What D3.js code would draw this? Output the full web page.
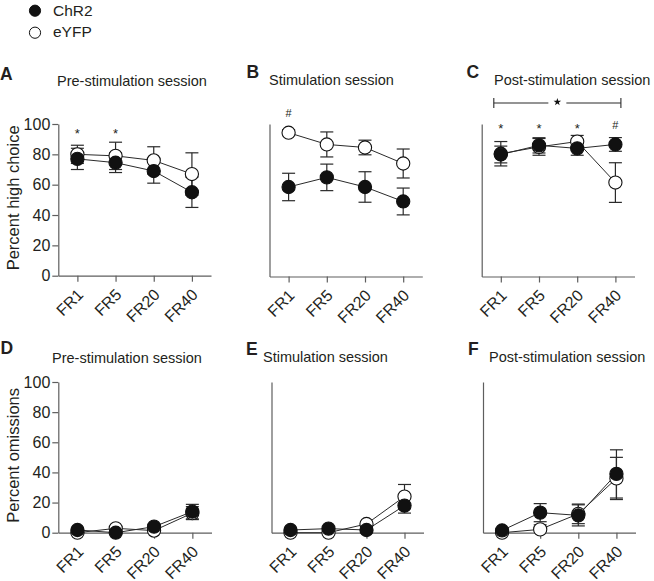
<!DOCTYPE html>
<html>
<head>
<meta charset="utf-8">
<script src="https://cdn.jsdelivr.net/npm/d3@7"></script>
<style>
  html, body { margin: 0; padding: 0; background: #fff; }
  svg { display: block; font-family: "Liberation Sans", Arial, Helvetica, sans-serif; }
</style>
</head>
<body>
<svg id="chart" width="654" height="581"></svg>
<script>
// ---------------- DATA ----------------
const categories = ["FR1", "FR5", "FR20", "FR40"];
const yTicks = [0, 20, 40, 60, 80, 100];
const seriesNames = ["ChR2", "eYFP"];

// Percent high choice
const highPreChR2 = [77, 74.5, 69, 55];
const highPreChR2Err = [7, 6.5, 8, 10];
const highPreEYFP = [80, 79, 76, 67];
const highPreEYFPErr = [6, 9, 9, 14];

const highStimChR2 = [58.7, 65, 58.7, 49.2];
const highStimChR2Err = [9, 8.7, 10, 8.8];
const highStimEYFP = [94.3, 86.6, 84.6, 74.1];
const highStimEYFPErr = [2, 8.2, 4.8, 9.5];

const highPostChR2 = [80, 86, 84, 86.6];
const highPostChR2Err = [5.5, 5, 4.5, 4.5];
const highPostEYFP = [80.5, 85, 88.5, 61.6];
const highPostEYFPErr = [8, 5.5, 4, 13];

// Percent omissions
const omitPreChR2 = [1.8, 0, 4, 14];
const omitPreChR2Err = [1, 1, 1.5, 4.8];
const omitPreEYFP = [0, 2.9, 1.4, 13];
const omitPreEYFPErr = [0.5, 1, 1, 4.3];

const omitStimChR2 = [1.8, 2.7, 1.8, 18];
const omitStimChR2Err = [1, 1, 1, 5];
const omitStimEYFP = [0, 0, 5.8, 24];
const omitStimEYFPErr = [0.5, 0.5, 1.5, 8];

const omitPostChR2 = [1.5, 13.3, 11.5, 39];
const omitPostChR2Err = [1, 6, 7, 16];
const omitPostEYFP = [0, 2.2, 12.5, 36];
const omitPostEYFPErr = [0.5, 3, 6.5, 14];

// annotations: [category, symbol, level in data units]
const annotA = [["FR1", "*", 95.4], ["FR5", "*", 95.4]];
const annotB = [["FR2-none", "", 0], ["FR1", "#", 107]].filter(d => d[1] !== "");
const annotC = [["FR1", "*", 99.3], ["FR5", "*", 99.3], ["FR20", "*", 99.3], ["FR40", "#", 99.3]];

// ---------------- LAYOUT ----------------
const svg = d3.select("#chart");
const TEXT = "#231f20";
const AXIS = "#5e5e5e";
const LINE = "#2a2a2a";

const panels = [
  { letter: "A", title: "Pre-stimulation session", x0: 58.3, x1: 211, yTop: 124, yBot: 275.7,
    chr: highPreChR2, chrE: highPreChR2Err, yfp: highPreEYFP, yfpE: highPreEYFPErr,
    labelled: true, ylabel: "Percent high choice", letterPos: [0, 80], titlePos: [57, 86], annot: annotA },
  { letter: "B", title: "Stimulation session", x0: 269.5, x1: 422.3, yTop: 124, yBot: 276.5,
    chr: highStimChR2, chrE: highStimChR2Err, yfp: highStimEYFP, yfpE: highStimEYFPErr,
    labelled: false, letterPos: [246.5, 77.5], titlePos: [269, 85], annot: annotB },
  { letter: "C", title: "Post-stimulation session", x0: 481.7, x1: 634.5, yTop: 124, yBot: 276.5,
    chr: highPostChR2, chrE: highPostChR2Err, yfp: highPostEYFP, yfpE: highPostEYFPErr,
    labelled: false, letterPos: [466.5, 77.5], titlePos: [494, 85], annot: annotC, bracket: 113.8 },
  { letter: "D", title: "Pre-stimulation session", x0: 58.3, x1: 211.5, yTop: 382, yBot: 532.7,
    chr: omitPreChR2, chrE: omitPreChR2Err, yfp: omitPreEYFP, yfpE: omitPreEYFPErr,
    labelled: true, ylabel: "Percent omissions", letterPos: [0.5, 354], titlePos: [52, 363], annot: [] },
  { letter: "E", title: "Stimulation session", x0: 271.5, x1: 423.5, yTop: 382, yBot: 532.7,
    chr: omitStimChR2, chrE: omitStimChR2Err, yfp: omitStimEYFP, yfpE: omitStimEYFPErr,
    labelled: false, letterPos: [246, 354.5], titlePos: [263, 362], annot: [] },
  { letter: "F", title: "Post-stimulation session", x0: 483, x1: 635.5, yTop: 382, yBot: 532.7,
    chr: omitPostChR2, chrE: omitPostChR2Err, yfp: omitPostEYFP, yfpE: omitPostEYFPErr,
    labelled: false, letterPos: [468, 355], titlePos: [489, 362], annot: [] }
];

const R = 6.6, CAP = 6.5;

panels.forEach(p => {
  const g = svg.append("g");
  const x = d3.scalePoint().domain(categories).range([p.x0, p.x1]).padding(0.5);
  const y = d3.scaleLinear().domain([0, 100]).range([p.yBot, p.yTop]);

  // letter + title
  g.append("text").attr("x", p.letterPos[0]).attr("y", p.letterPos[1])
    .attr("font-size", 17.5).attr("font-weight", "bold").attr("fill", TEXT).text(p.letter);
  g.append("text").attr("x", p.titlePos[0]).attr("y", p.titlePos[1])
    .attr("font-size", 14.5).attr("fill", TEXT).text(p.title);

  // y axis
  const yAxis = d3.axisLeft(y).tickValues(p.labelled ? yTicks : []).tickSize(p.labelled ? 6 : 0)
    .tickPadding(2).tickSizeOuter(0);
  const ya = g.append("g").attr("transform", `translate(${p.x0},0)`).call(yAxis);
  ya.select(".domain").attr("stroke", AXIS).attr("stroke-width", 1.2);
  ya.selectAll(".tick line").attr("stroke", AXIS).attr("stroke-width", 1.2);
  ya.selectAll(".tick text").attr("font-size", 16).attr("fill", TEXT)
    .attr("font-family", "'Liberation Sans', Arial, sans-serif");

  // x axis
  const xAxis = d3.axisBottom(x).tickSize(6).tickSizeOuter(0).tickFormat("");
  const xa = g.append("g").attr("transform", `translate(0,${p.yBot})`).call(xAxis);
  xa.select(".domain").attr("stroke", AXIS).attr("stroke-width", 1.2);
  xa.selectAll(".tick line").attr("stroke", AXIS).attr("stroke-width", 1.2);
  g.append("g").selectAll("text").data(categories).join("text")
    .attr("transform", d => `translate(${x(d) + 7},${p.yBot + 20}) rotate(-45)`)
    .attr("text-anchor", "end").attr("font-size", 16).attr("fill", TEXT).text(d => d);

  // y label
  if (p.ylabel) {
    g.append("text")
      .attr("transform", `translate(19,${(p.yTop + p.yBot) / 2 - 2}) rotate(-90)`)
      .attr("text-anchor", "middle").attr("font-size", 16.5).attr("fill", TEXT).text(p.ylabel);
  }

  const series = [
    { vals: p.yfp, errs: p.yfpE, fill: "#fff" },
    { vals: p.chr, errs: p.chrE, fill: "#111" }
  ];
  const line = d3.line().x((d, i) => x(categories[i])).y(d => y(d));

  // error bars
  series.forEach(s => {
    const eb = g.append("g").attr("stroke", LINE).attr("stroke-width", 1.2).attr("fill", "none");
    categories.forEach((c, i) => {
      const v = s.vals[i], e = s.errs[i];
      const cx = x(c);
      eb.append("line").attr("x1", cx).attr("x2", cx).attr("y1", y(v + e)).attr("y2", y(Math.max(0, v - e)));
      eb.append("line").attr("x1", cx - CAP).attr("x2", cx + CAP).attr("y1", y(v + e)).attr("y2", y(v + e));
      if (v - e > 0) eb.append("line").attr("x1", cx - CAP).attr("x2", cx + CAP).attr("y1", y(v - e)).attr("y2", y(v - e));
    });
  });
  // lines
  series.forEach(s => {
    g.append("path").datum(s.vals).attr("d", line).attr("fill", "none")
      .attr("stroke", LINE).attr("stroke-width", 1);
  });
  // points
  series.forEach(s => {
    g.append("g").selectAll("circle").data(s.vals).join("circle")
      .attr("cx", (d, i) => x(categories[i])).attr("cy", d => y(d)).attr("r", R)
      .attr("fill", s.fill).attr("stroke", "#111").attr("stroke-width", 1.1);
  });

  // annotations
  p.annot.forEach(a => {
    const isStar = a[1] === "*";
    g.append("text").attr("x", x(a[0])).attr("y", y(a[2]) + (isStar ? 7.5 : 4))
      .attr("text-anchor", "middle").attr("font-size", isStar ? 13 : 11).attr("fill", TEXT).text(a[1]);
  });

  if (p.bracket !== undefined) {
    const by = y(p.bracket);
    const bx0 = x("FR1") - 7, bx1 = x("FR40") + 5.5;
    const mid = (bx0 + bx1) / 2;
    const bg = g.append("g").attr("stroke", LINE).attr("stroke-width", 1.1);
    bg.append("line").attr("x1", bx0).attr("x2", mid - 9).attr("y1", by).attr("y2", by);
    bg.append("line").attr("x1", mid + 9).attr("x2", bx1).attr("y1", by).attr("y2", by);
    bg.append("line").attr("x1", bx0).attr("x2", bx0).attr("y1", by - 5).attr("y2", by + 5);
    bg.append("line").attr("x1", bx1).attr("x2", bx1).attr("y1", by - 5).attr("y2", by + 5);
    g.append("path").attr("d", d3.symbol(d3.symbolStar).size(18)())
      .attr("transform", `translate(${mid},${by - 1})`).attr("fill", "#111");
  }
});

// legend
const legend = svg.append("g");
const legendFills = ["#111", "#fff"];
seriesNames.forEach((n, i) => {
  legend.append("circle").attr("cx", 35).attr("cy", 10.7 + i * 22).attr("r", 5.6)
    .attr("fill", legendFills[i]).attr("stroke", "#111").attr("stroke-width", 1);
  legend.append("text").attr("x", 53).attr("y", 15.5 + i * 21.5).attr("font-size", 15.5)
    .attr("fill", TEXT).text(n);
});
</script>
</body>
</html>
